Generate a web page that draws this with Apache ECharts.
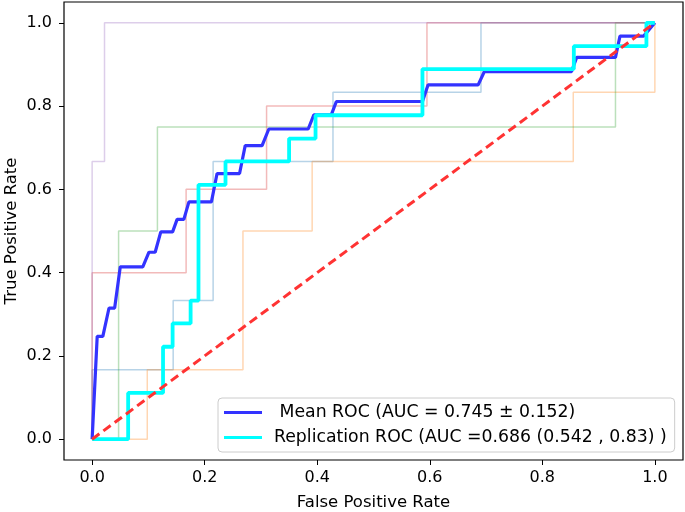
<!DOCTYPE html>
<html>
<head>
<meta charset="utf-8">
<script src="https://cdn.jsdelivr.net/npm/echarts@6.0.0/dist/echarts.min.js"></script>
<style>
  html, body { margin: 0; padding: 0; background: #fff; }
  #main { width: 685px; height: 512px; }
</style>
</head>
<body>
<div id="main"></div>
<script>
"use strict"

// tick labels
const tickValues = [0, 0.2, 0.4, 0.6, 0.8, 1.0];

// cross-validation folds (faint)
const foldBlueX = [0, 0, 0.144, 0.144, 0.215, 0.215, 0.428, 0.428, 0.691, 0.691, 1];
const foldBlueY = [0, 0.167, 0.167, 0.333, 0.333, 0.667, 0.667, 0.833, 0.833, 1, 1];
const foldOrangeX = [0, 0.098, 0.098, 0.268, 0.268, 0.391, 0.391, 0.855, 0.855, 1, 1];
const foldOrangeY = [0, 0, 0.167, 0.167, 0.5, 0.5, 0.667, 0.667, 0.833, 0.833, 1];
const foldGreenX = [0, 0.047, 0.047, 0.116, 0.116, 0.93, 0.93, 1];
const foldGreenY = [0, 0, 0.5, 0.5, 0.75, 0.75, 1, 1];
const foldRedX = [0, 0, 0.167, 0.167, 0.31, 0.31, 0.595, 0.595, 1];
const foldRedY = [0, 0.4, 0.4, 0.6, 0.6, 0.8, 0.8, 1, 1];
const foldPurpleX = [0, 0, 0.022, 0.022, 1];
const foldPurpleY = [0, 0.667, 0.667, 1, 1];

// mean ROC
const meanX = [0, 0.009, 0.019, 0.03, 0.04, 0.05, 0.09, 0.101, 0.112, 0.122, 0.143, 0.151, 0.163,
    0.172, 0.212, 0.222, 0.262, 0.272, 0.302, 0.314, 0.384, 0.394, 0.425, 0.434, 0.587, 0.597,
    0.686, 0.697, 0.852, 0.861, 0.930, 0.938, 0.980, 1.0];
const meanY = [0, 0.247, 0.247, 0.315, 0.315, 0.414, 0.414, 0.449, 0.449, 0.498, 0.498, 0.528, 0.528,
    0.570, 0.570, 0.638, 0.638, 0.705, 0.705, 0.745, 0.745, 0.779, 0.779, 0.811, 0.811, 0.851,
    0.851, 0.883, 0.883, 0.917, 0.917, 0.968, 0.968, 1.0];

// replication ROC
const repX = [0, 0.064, 0.064, 0.126, 0.126, 0.143, 0.143, 0.175, 0.175, 0.189, 0.189, 0.237,
    0.237, 0.35, 0.35, 0.397, 0.397, 0.587, 0.587, 0.856, 0.856, 0.985, 0.985, 1.0];
const repY = [0, 0, 0.111, 0.111, 0.222, 0.222, 0.278, 0.278, 0.333, 0.333, 0.611, 0.611,
    0.667, 0.667, 0.722, 0.722, 0.778, 0.778, 0.889, 0.889, 0.944, 0.944, 1.0, 1.0];

// chance line
const chanceX = [0, 1];
const chanceY = [0, 1];

const meanName = ' Mean ROC (AUC = 0.745 \u00b1 0.152)';
const repName = 'Replication ROC (AUC =0.686 (0.542 , 0.83) )';

function pairs(xs, ys) {
    var out = [];
    for (var i = 0; i < xs.length; i++) {
        out.push([xs[i], ys[i]]);
    }
    return out;
}

function foldSeries(name, xs, ys, color) {
    return {
        name: name,
        type: 'line',
        data: pairs(xs, ys),
        showSymbol: false,
        silent: true,
        lineStyle: { color: color, width: 1.5, opacity: 0.32 },
        z: 1,
    };
}

const FONT = 'DejaVu Sans';

var chart = echarts.init(document.getElementById('main'), null, { renderer: 'canvas' });

var option = {
    animation: false,
    backgroundColor: '#fff',
    grid: {
        left: 64, right: 2, top: 2, bottom: 52,
        containLabel: false,
        outerBoundsMode: 'none',
        show: true, borderColor: '#000', borderWidth: 1.2,
        backgroundColor: 'transparent',
    },
    legend: {
        data: [
            { name: meanName, icon: 'rect' },
            { name: repName, icon: 'rect' },
        ],
        orient: 'vertical',
        left: 218, top: 398,
        itemWidth: 38, itemHeight: 3,
        itemGap: 8,
        padding: [6, 8, 6, 6],
        backgroundColor: 'rgba(255,255,255,0.8)',
        borderColor: '#cccccc', borderWidth: 1, borderRadius: 4,
        selectedMode: false,
        textStyle: { fontFamily: FONT, fontSize: 17.3, color: '#000', padding: [0, 0, 0, 7] },
    },
    xAxis: {
        type: 'value',
        min: -0.05, max: 1.05,
        name: 'False Positive Rate',
        nameLocation: 'middle',
        nameGap: 34,
        nameMoveOverlap: false,
        nameTextStyle: { fontFamily: FONT, fontSize: 16.5, color: '#000' },
        axisLine: { show: false, onZero: false },
        axisTick: { show: true, inside: false, length: 5, customValues: tickValues,
            lineStyle: { color: '#000', width: 1 } },
        axisLabel: { customValues: tickValues, margin: 10, fontFamily: FONT, fontSize: 16, color: '#000',
            formatter: function (v) { return v.toFixed(1); } },
        splitLine: { show: false },
    },
    yAxis: {
        type: 'value',
        min: -0.05, max: 1.05,
        name: 'True Positive Rate',
        nameLocation: 'middle',
        nameGap: 44,
        nameMoveOverlap: false,
        nameTextStyle: { fontFamily: FONT, fontSize: 16.5, color: '#000' },
        axisLine: { show: false, onZero: false },
        axisTick: { show: true, inside: false, length: 5, customValues: tickValues,
            lineStyle: { color: '#000', width: 1 } },
        axisLabel: { customValues: tickValues, margin: 12, fontFamily: FONT, fontSize: 16, color: '#000',
            formatter: function (v) { return v.toFixed(1); } },
        splitLine: { show: false },
    },
    series: [
        foldSeries('fold1', foldBlueX, foldBlueY, '#1f77b4'),
        foldSeries('fold2', foldOrangeX, foldOrangeY, '#ff7f0e'),
        foldSeries('fold3', foldGreenX, foldGreenY, '#2ca02c'),
        foldSeries('fold4', foldRedX, foldRedY, '#d62728'),
        foldSeries('fold5', foldPurpleX, foldPurpleY, '#9467bd'),
        {
            name: meanName,
            type: 'line',
            data: pairs(meanX, meanY),
            showSymbol: false,
            color: '#3333ff',
            lineStyle: { color: '#3333ff', width: 3.2 },
            z: 3,
        },
        {
            name: repName,
            type: 'line',
            data: pairs(repX, repY),
            showSymbol: false,
            color: '#00ffff',
            lineStyle: { color: '#00ffff', width: 3.8 },
            z: 4,
        },
        {
            name: 'chance',
            type: 'line',
            data: pairs(chanceX, chanceY),
            showSymbol: false,
            silent: true,
            lineStyle: { color: '#ff3333', width: 3, type: [9, 5] },
            z: 5,
        },
    ],
};

chart.setOption(option);
</script>
</body>
</html>
